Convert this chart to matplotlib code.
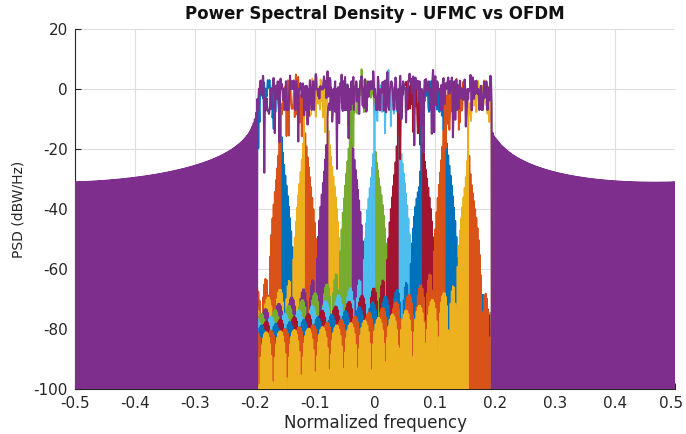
import numpy as np
import matplotlib
matplotlib.use("Agg")
import matplotlib.pyplot as plt
from matplotlib.transforms import ScaledTranslation

# System parameters
num_fft = 512            # FFT length
subband_size = 20        # subcarriers per subband
num_subbands = 10        # number of subbands
subband_offset = 156     # guard subcarriers below the first subband
filter_len = 43          # subband filter length
sidelobe_atten = 40      # Dolph-Chebyshev sidelobe attenuation (dB)
psd_nfft = 2 * num_fft   # periodogram length

# 16-QAM symbol indices, one hex digit per data subcarrier
ufmc_symbols = [
    "c8cf0ca782f626758b8d",
    "123f44b7d6ade0876771",
    "0d56961cf9e216cee01c",
    "e4cba25a6de1afe1d04d",
    "08808a781fefce787d0b",
    "78a42365eafe11145b27",
    "c66cb03f646ddded596a",
    "06df2c5dfeb32ad6e58c",
    "000a5f5b8f8154ac17e2",
    "7d9b1421c155ae23933d",
]
ofdm_symbols = "adf20e96aaabe3dd7faf872afaae43e25c44e1b11a884b5c907e7e1e3c04b3fe57f7eb7b8b69988a3794ce8d0b72d6fecfb0daa0624bf53c6ec45b0612d5c7debc30e00f2809494dfb3923cc23e2690db4f4c2c9cca278e8e158d473dfd1b5b99c809ee3"

x_ticks = [-0.5, -0.4, -0.3, -0.2, -0.1, 0, 0.1, 0.2, 0.3, 0.4, 0.5]
x_tick_labels = ["-0.5", "-0.4", "-0.3", "-0.2", "-0.1", "0",
                 "0.1", "0.2", "0.3", "0.4", "0.5"]
y_ticks = [-100, -80, -60, -40, -20, 0, 20]
y_tick_labels = ["-100", "-80", "-60", "-40", "-20", "0", "20"]

title_text = "Power Spectral Density - UFMC vs OFDM"
x_label = "Normalized frequency"
y_label = "PSD (dBW/Hz)"

# MATLAB default colour order
color_order = ["#0072BD", "#D95319", "#EDB120", "#7E2F8E",
               "#77AC30", "#4DBEEE", "#A2142F"]


def chebwin(m, at):
    """Dolph-Chebyshev window of length m with at dB sidelobes."""
    order = m - 1.0
    beta = np.cosh(np.arccosh(10 ** (abs(at) / 20.0)) / order)
    k = np.arange(m)
    x = beta * np.cos(np.pi * k / m)
    p = np.zeros(m)
    hi = x > 1
    lo = x < -1
    mid = ~(hi | lo)
    p[hi] = np.cosh(order * np.arccosh(x[hi]))
    p[lo] = (2 * (m % 2) - 1) * np.cosh(order * np.arccosh(-x[lo]))
    p[mid] = np.cos(order * np.arccos(x[mid]))
    w = np.real(np.fft.fft(p))
    n = (m + 1) // 2
    w = w[:n]
    w = np.concatenate((w[n - 1:0:-1], w))
    return w / w.max()


def qam16(hex_digits):
    levels = np.array([-3.0, -1.0, 1.0, 3.0])
    d = np.array([int(c, 16) for c in hex_digits])
    return (levels[d >> 2] + 1j * levels[d & 3]) / np.sqrt(10.0)


def periodogram_db(sig, nfft):
    spec = np.fft.fftshift(np.fft.fft(sig, nfft))
    psd = np.abs(spec) ** 2 / len(sig)
    return 10 * np.log10(np.maximum(psd, 1e-30))


freq = np.arange(-psd_nfft // 2, psd_nfft // 2) / psd_nfft
proto = chebwin(filter_len, sidelobe_atten)
n_idx = np.arange(filter_len)

fig = plt.figure(figsize=(6.86, 4.34), dpi=100)
fig.patch.set_facecolor("white")
ax = fig.add_axes([75 / 686, 1 - 389 / 434, 600 / 686, 360 / 434])

# UFMC: each subband is filtered and its spectrum drawn separately
for b in range(num_subbands):
    offset = subband_offset + b * subband_size
    grid_syms = np.zeros(num_fft, dtype=complex)
    grid_syms[offset:offset + subband_size] = qam16(ufmc_symbols[b])
    ifft_out = np.fft.ifft(np.fft.ifftshift(grid_syms))
    shift = (b + 0.5) * subband_size + 0.5 + subband_offset + num_fft / 2
    band_filter = proto * np.exp(1j * 2 * np.pi * n_idx / num_fft * shift)
    filt_out = np.convolve(band_filter, ifft_out)
    ax.plot(freq, periodogram_db(filt_out, psd_nfft),
            color=color_order[b % len(color_order)], lw=1.3, zorder=3)

# OFDM symbol over the same occupied band
n_data = num_subbands * subband_size
off = (num_fft - n_data) // 2
grid_syms = np.zeros(num_fft, dtype=complex)
grid_syms[off:off + n_data] = qam16(ofdm_symbols)
tx_ofdm = np.sqrt(num_fft) * np.fft.ifft(np.fft.ifftshift(grid_syms))
ax.plot(freq, periodogram_db(tx_ofdm, psd_nfft),
        color=color_order[num_subbands % len(color_order)], lw=1.5, zorder=4)

ax.set_xlim(-0.5, 0.5)
ax.set_ylim(-100, 20)
ax.set_xticks(x_ticks)
ax.set_xticklabels(x_tick_labels)
ax.set_yticks(y_ticks)
ax.set_yticklabels(y_tick_labels)
ax.grid(True, color="#dedede", lw=0.8, zorder=0)
ax.set_axisbelow(True)
for side in ("top", "right"):
    ax.spines[side].set_visible(False)
for side in ("left", "bottom"):
    ax.spines[side].set_color("#262626")
    ax.spines[side].set_linewidth(0.8)
ax.tick_params(direction="in", length=4, width=0.8, color="#262626",
               labelcolor="#262626", labelsize=11, pad=5)
for lab in ax.get_xticklabels() + ax.get_yticklabels():
    lab.set_family("DejaVu Sans")
# keep the last x tick label inside the figure
last = ax.get_xticklabels()[-1]
last.set_transform(last.get_transform() + ScaledTranslation(-4 / 100, 0, fig.dpi_scale_trans))

ax.set_title(title_text, fontsize=12, fontweight="bold", color="#111111",
             family="DejaVu Sans", pad=7)
ax.set_xlabel(x_label, fontsize=12, color="#262626", family="DejaVu Sans",
              labelpad=2)
ax.set_ylabel(y_label, fontsize=10, color="#262626", family="DejaVu Sans",
              labelpad=6)

fig.savefig("out.png", dpi=100, facecolor="white")
